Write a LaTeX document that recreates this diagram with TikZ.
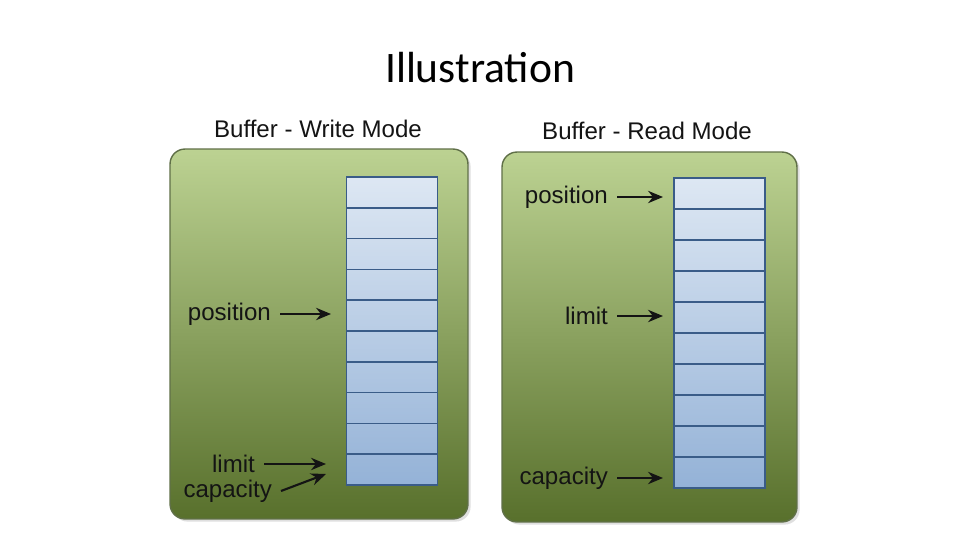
\documentclass[tikz,border=0pt]{standalone}
\usepackage{fontspec}
\setmainfont{Liberation Sans}
\newfontfamily\slidefont{Carlito}
\usetikzlibrary{arrows.meta,positioning,shadows}
\definecolor{panelTop}{RGB}{188,210,146}
\definecolor{panelMid}{RGB}{142,178,66}
\definecolor{panelBot}{RGB}{88,112,44}
\definecolor{panelEdge}{RGB}{96,112,72}
\definecolor{cellTop}{RGB}{221,231,243}
\definecolor{cellBot}{RGB}{148,178,215}
\definecolor{cellEdge}{RGB}{58,92,136}
\definecolor{inkBlack}{RGB}{20,20,20}

\begin{document}
\begin{tikzpicture}[
  x=0.02cm, y=-0.02cm,
  panel/.style={rectangle, rounded corners=0.3cm, draw=panelEdge,
                line width=0.8pt, top color=panelTop,
                middle color=panelMid, bottom color=panelBot,
                minimum height=7.4cm,
                drop shadow={opacity=0.25, shadow xshift=1.5pt,
                             shadow yshift=-1.5pt}},
  column/.style={rectangle, top color=cellTop, bottom color=cellBot,
                 minimum width=1.82cm, minimum height=6.18cm,
                 inner sep=0pt},
  cell/.style={rectangle, draw=cellEdge, line width=0.8pt,
               minimum width=1.82cm, minimum height=0.618cm,
               inner sep=0pt},
  heading/.style={font=\fontsize{13.7}{16}\selectfont, text=inkBlack},
  lbl/.style={font=\fontsize{13.7}{16}\selectfont, text=inkBlack,
              inner sep=5pt, anchor=east},
  ptr/.style={-{Stealth[length=8.5pt,width=7pt]}, line width=1.2pt,
              inkBlack}
]
  \useasboundingbox (0,0) rectangle (960,540);
  \fill[white] (0,0) rectangle (960,540);

  \node[font=\slidefont\fontsize{24.8}{28}\selectfont] (title)
    at (480,68) {Illustration};

  % write mode
  \node[heading] (wtitle) at (318,129) {Buffer - Write Mode};
  \node[panel, minimum width=5.96cm] (wpanel) at (319,334) {};
  \node[column] (wcol) at (392,331.5) {};
  \foreach \i in {1,...,10}
    \node[cell] (w\i) at (392,{177+30.8*(\i-0.5)}) {};
  \node[lbl] (wpos) at (280,314) {position};
  \node[lbl] (wlim) at (264,464) {limit};
  \node[lbl] (wcap) at (281,491) {capacity};
  \coordinate (wposend) at (331,314);
  \coordinate (wlimend) at (326,464);
  \coordinate (wcapend) at (326,474);
  \draw[ptr] (wpos.east) -- (wposend);
  \draw[ptr] (wlim.east) -- (wlimend);
  \draw[ptr] (wcap.east) -- (wcapend);

  % read mode
  \node[heading] (rtitle) at (647,131) {Buffer - Read Mode};
  \node[panel, minimum width=5.9cm] (rpanel) at (649.5,337) {};
  \node[column] (rcol) at (719.5,333) {};
  \foreach \i in {1,...,10}
    \node[cell] (r\i) at (719.5,{178+31*(\i-0.5)}) {};
  \node[lbl] (rpos) at (617,197) {position};
  \node[lbl] (rlim) at (617,316) {limit};
  \node[lbl] (rcap) at (617,478) {capacity};
  \foreach \n in {pos,lim,cap}
    \draw[ptr] (r\n.east) -- ++(46,0);
\end{tikzpicture}
\end{document}
